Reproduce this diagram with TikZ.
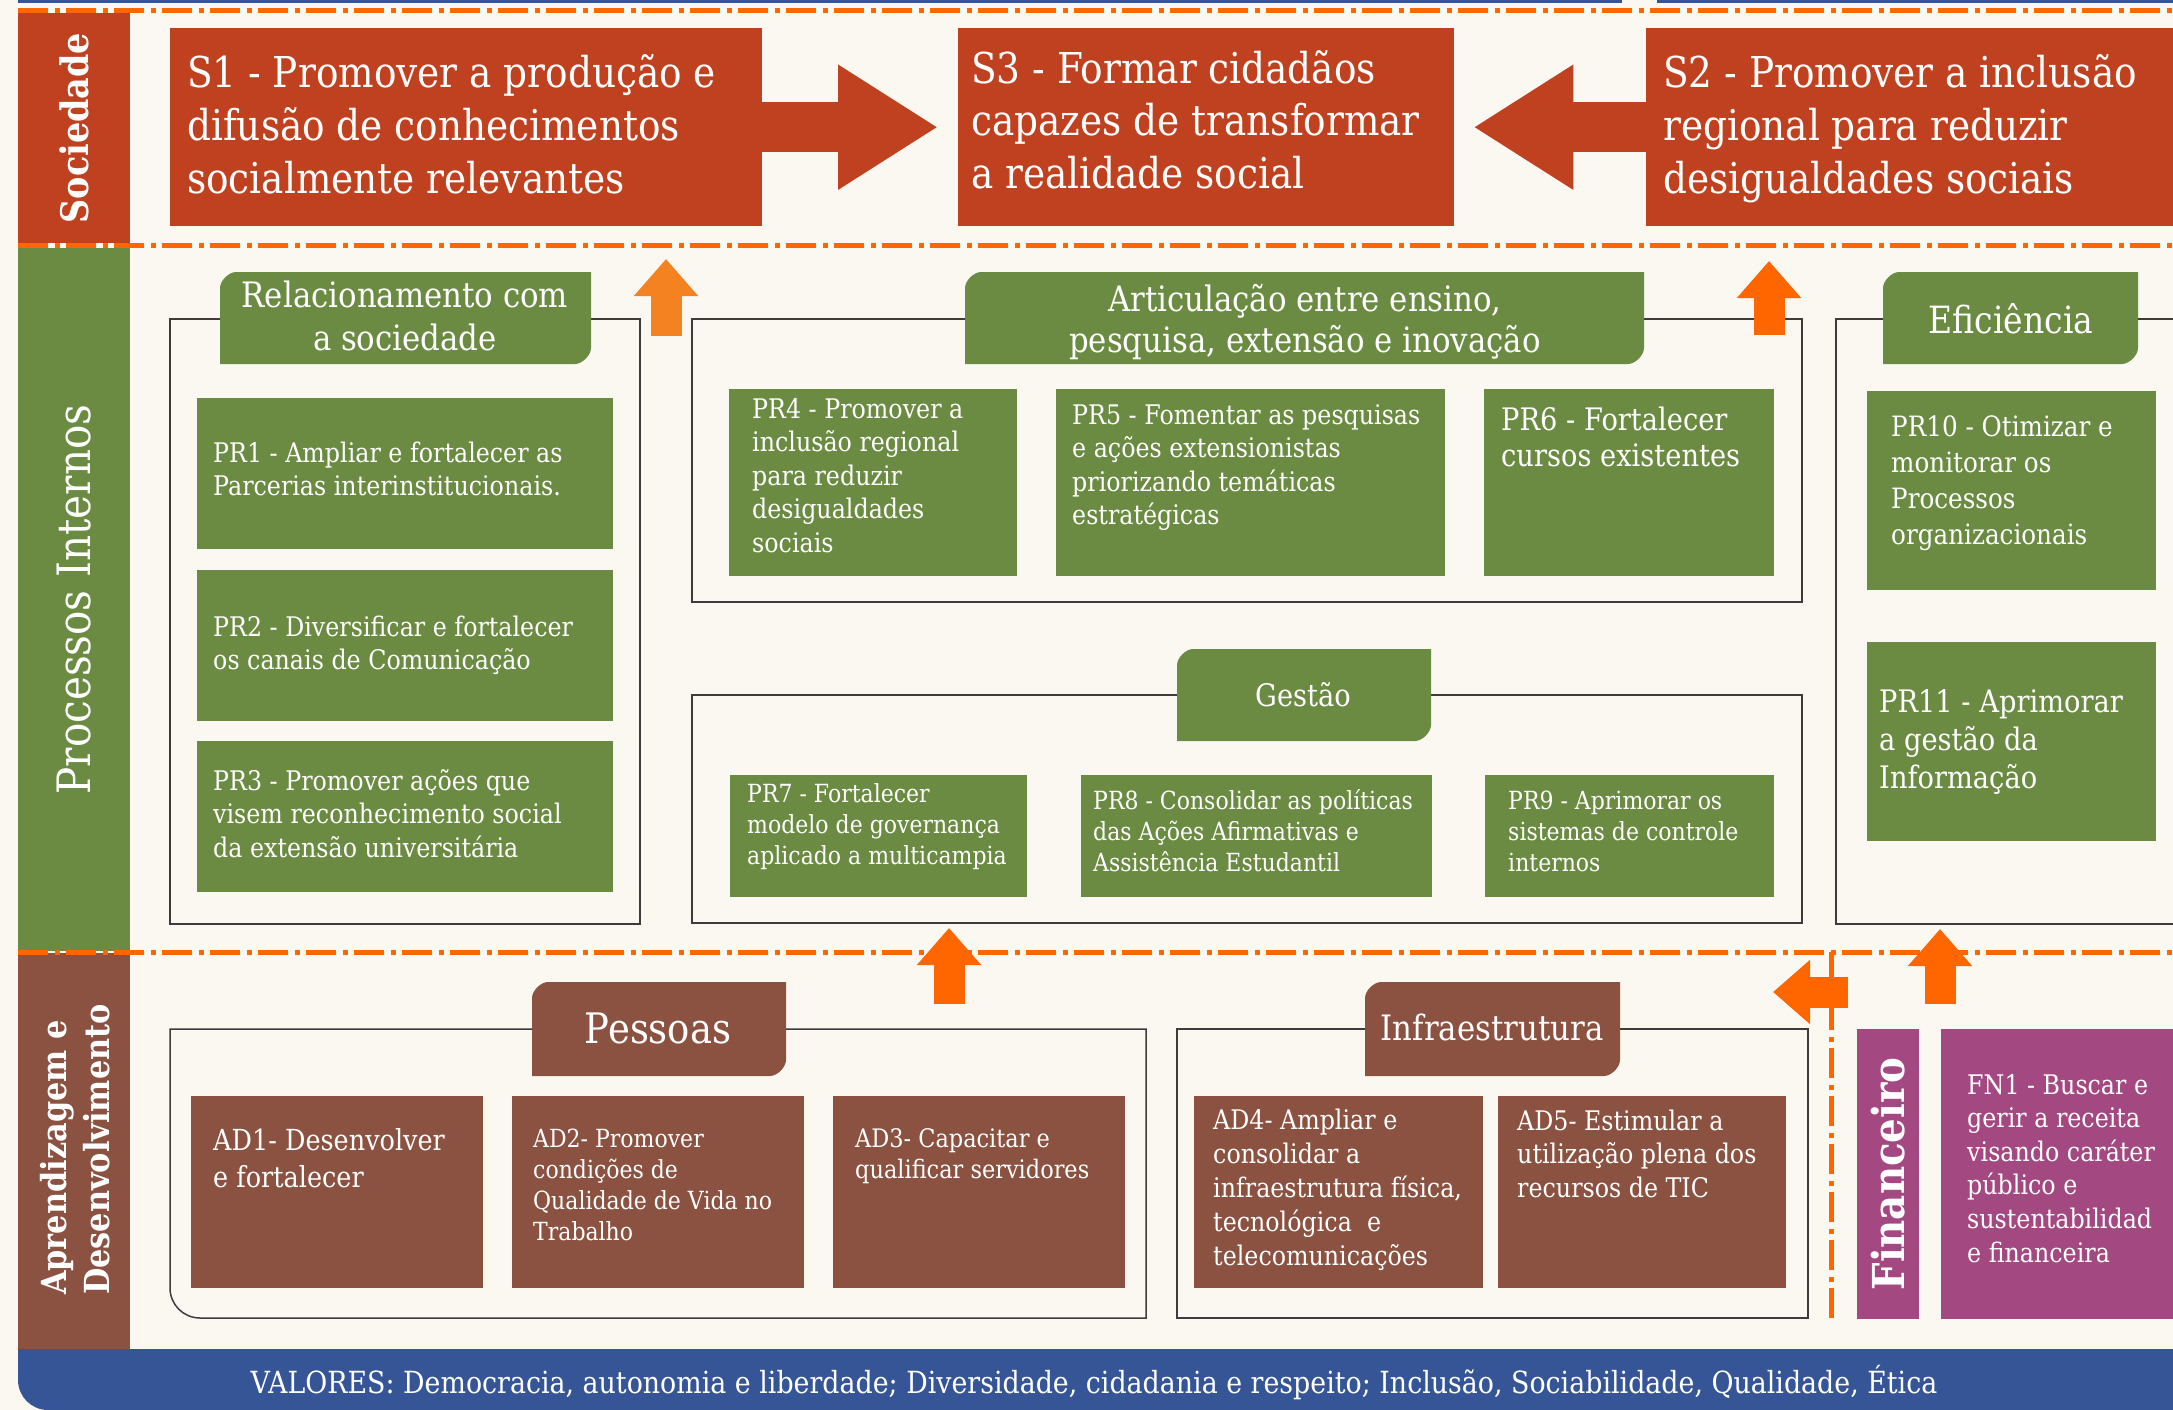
\documentclass[tikz,border=0pt]{standalone}
\usepackage{fontspec}
\setmainfont{DejaVu Serif}[FakeStretch=0.88]
\usetikzlibrary{arrows.meta}

\definecolor{bgcream}{RGB}{251,248,242}
\definecolor{socred}{RGB}{192,65,31}
\definecolor{pigreen}{RGB}{106,139,65}
\definecolor{adbrown}{RGB}{139,81,65}
\definecolor{fnpurple}{RGB}{164,72,130}
\definecolor{valblue}{RGB}{53,85,151}
\definecolor{lineorange}{RGB}{255,102,0}
\definecolor{arroworange}{RGB}{245,130,32}
\definecolor{framegray}{RGB}{60,60,60}

\newcommand{\setfs}[2]{\fontsize{#1}{#2}\selectfont}

\tikzstyle{band}=[rectangle, inner sep=0, text=white]
\tikzstyle{goal}=[rectangle, inner sep=0, anchor=north west]
\tikzstyle{boxtext}=[inner sep=0, text=white, anchor=base west, align=left]
\tikzstyle{tabtext}=[inner sep=0, text=white, anchor=base, align=center]
\tikzstyle{panel}=[draw=framegray, line width=1.5]
\tikzstyle{sepline}=[draw=lineorange, line width=5,
                     dash pattern=on 30pt off 6.5pt on 5pt off 6.5pt]
\tikzstyle{bigarrow}=[draw=socred, line width=50,
                      -{Triangle[length=100pt, width=118pt]}]
\tikzstyle{smallarrow}=[draw=lineorange, line width=31,
                        -{Triangle[length=37pt, width=62pt]}]

\begin{document}
\begin{tikzpicture}[x=1pt, y=-1pt]
  \useasboundingbox (0,0) rectangle (2173,1410);
  \clip (0,0) rectangle (2173,1410);
  \fill[bgcream] (0,0) rectangle (2173,1410);

  %%%%%%%%%%%%%%%%%%%%%%%%%%%%%%
  %%%%%%%%%%%%%%%%%%%%%%%%%%%%%%
  % perspectives

  %%%%%%%%%%%%%%%%%%%%%%%%%%%%%%
  % side bands
  \fill[valblue] (18,0) rectangle (1622,3.5);
  \fill[valblue] (1657,0) rectangle (2173,3.5);

  \node (soc) at (74,128) [band, fill=socred, rotate=90, minimum width=230, minimum height=112,
    font=\bfseries\setfs{38}{40}] {Sociedade};
  \node (proc) at (74,599.5) [band, fill=pigreen, rotate=90, minimum width=703, minimum height=112,
    font=\setfs{46}{48}] {Processos Internos};
  \node (apr) at (74,1151) [band, fill=adbrown, rotate=90, minimum width=396, minimum height=112] {};
  \node (aprt) at (75,1295) [band, rotate=90, anchor=west, align=left,
    font=\bfseries\setfs{34.5}{43}] {Aprendizagem e\\Desenvolvimento};

  % values
  \fill[valblue] (18,1349) -- (18,1380) .. controls (18,1396.6) and (31.4,1410) .. (48,1410)
    -- (2173,1410) -- (2173,1349) -- cycle;
  \node (val) at (1094,1393) [tabtext, font=\setfs{30.5}{32}]
    {VALORES: Democracia, autonomia e liberdade; Diversidade, cidadania e respeito; Inclusão, Sociabilidade, Qualidade, Ética};

  % separators
  \draw[sepline] (18,11) -- (2173,11);
  \draw[sepline] (18,245) -- (2173,245);
  \draw[sepline] (18,952) -- (2173,952);
  \draw[sepline] (1831,952) -- (1831,1319);

  %%%%%%%%%%%%%%%%%%%%%%%%%%%%%%
  % sociedade
  % (text nodes sit on the baseline of their last line)
  \node (s1) at (170,28) [goal, fill=socred, minimum width=592, minimum height=198] {};
  \node (s3) at (958,28) [goal, fill=socred, minimum width=496, minimum height=198] {};
  \node (s2) at (1646,28) [goal, fill=socred, minimum width=560, minimum height=198] {};

  \node (s1t) at (187,193) [boxtext, font=\setfs{42.5}{52.5}]
    {S1 - Promover a produção e\\difusão de conhecimentos\\socialmente relevantes};
  \node (s3t) at (971,188) [boxtext, font=\setfs{42.5}{52.5}]
    {S3 - Formar cidadãos\\capazes de transformar\\a realidade social};
  \node (s2t) at (1663,193) [boxtext, font=\setfs{42.5}{52.5}]
    {S2 - Promover a inclusão\\regional para reduzir\\desigualdades sociais};

  \draw[bigarrow] (s1.east) -- ([xshift=-20]s3.west);
  \draw[bigarrow] (s2.west) -- ([xshift=19]s3.east);

  %%%%%%%%%%%%%%%%%%%%%%%%%%%%%%
  % processos internos
  % frames
  \draw[panel] (170,319) rectangle (640,924);
  \draw[panel] (692,319) rectangle (1802,602);
  \draw[panel] (692,695) rectangle (1802,923);
  \draw[panel] (2180,319) -- (1836,319) -- (1836,924) -- (2180,924);

  % tabs
  \fill[pigreen] (220,364) -- (220,288) .. controls (220,280.8) and (228.8,272) .. (236,272)
    -- (591,272) -- (591,348) .. controls (591,355.2) and (582.2,364) .. (575,364) -- cycle;
  \fill[pigreen] (965,364) -- (965,288) .. controls (965,280.8) and (973.8,272) .. (981,272)
    -- (1644,272) -- (1644,348) .. controls (1644,355.2) and (1635.2,364) .. (1628,364) -- cycle;
  \fill[pigreen] (1883,364) -- (1883,288) .. controls (1883,280.8) and (1891.8,272) .. (1899,272)
    -- (2138,272) -- (2138,348) .. controls (2138,355.2) and (2129.2,364) .. (2122,364) -- cycle;
  \fill[pigreen] (1177,741) -- (1177,665) .. controls (1177,657.8) and (1185.8,649) .. (1193,649)
    -- (1431,649) -- (1431,725) .. controls (1431,732.2) and (1422.2,741) .. (1415,741) -- cycle;

  \node (rel) at (405,350) [tabtext, font=\setfs{35}{43}] {Relacionamento com\\a sociedade};
  \node (art) at (1305,352) [tabtext, font=\setfs{35}{41}] {Articulação entre ensino,\\pesquisa, extensão e inovação};
  \node (efi) at (2011,333) [tabtext, font=\setfs{37.5}{40}] {Eficiência};
  \node (ges) at (1303,706) [tabtext, font=\setfs{31}{33}] {Gestão};

  % objectives
  \node (pr1) at (197,398) [goal, fill=pigreen, minimum width=416, minimum height=151] {};
  \node (pr2) at (197,570) [goal, fill=pigreen, minimum width=416, minimum height=151] {};
  \node (pr3) at (197,741) [goal, fill=pigreen, minimum width=416, minimum height=151] {};
  \node (pr4) at (729,389) [goal, fill=pigreen, minimum width=288, minimum height=187] {};
  \node (pr5) at (1056,389) [goal, fill=pigreen, minimum width=389, minimum height=187] {};
  \node (pr6) at (1484,389) [goal, fill=pigreen, minimum width=290, minimum height=187] {};
  \node (pr7) at (730,775) [goal, fill=pigreen, minimum width=297, minimum height=122] {};
  \node (pr8) at (1081,775) [goal, fill=pigreen, minimum width=351, minimum height=122] {};
  \node (pr9) at (1485,775) [goal, fill=pigreen, minimum width=289, minimum height=122] {};
  \node (pr10) at (1867,391) [goal, fill=pigreen, minimum width=289, minimum height=199] {};
  \node (pr11) at (1867,642) [goal, fill=pigreen, minimum width=289, minimum height=199] {};

  \node (pr1t) at (213,495.5) [boxtext, font=\setfs{27}{33.5}]
    {PR1 - Ampliar e fortalecer as\\Parcerias interinstitucionais.};
  \node (pr2t) at (213,669.5) [boxtext, font=\setfs{27}{33.5}]
    {PR2 - Diversificar e fortalecer\\os canais de Comunicação};
  \node (pr3t) at (213,857) [boxtext, font=\setfs{27}{33.5}]
    {PR3 - Promover ações que\\visem reconhecimento social\\da extensão universitária};
  \node (pr4t) at (752,552) [boxtext, font=\setfs{27}{33.5}]
    {PR4 - Promover a\\inclusão regional\\para reduzir\\desigualdades\\sociais};
  \node (pr5t) at (1072,524.5) [boxtext, font=\setfs{27}{33.5}]
    {PR5 - Fomentar as pesquisas\\e ações extensionistas\\priorizando temáticas\\estratégicas};
  \node (pr6t) at (1501,466.5) [boxtext, font=\setfs{31}{36.5}]
    {PR6 - Fortalecer\\cursos existentes};
  \node (pr7t) at (747,864) [boxtext, font=\setfs{25}{31}]
    {PR7 - Fortalecer\\modelo de governança\\aplicado a multicampia};
  \node (pr8t) at (1093,871) [boxtext, font=\setfs{25}{31}]
    {PR8 - Consolidar as políticas\\das Ações Afirmativas e\\Assistência Estudantil};
  \node (pr9t) at (1508,871) [boxtext, font=\setfs{25}{31}]
    {PR9 - Aprimorar os\\sistemas de controle\\internos};
  \node (pr10t) at (1891,544) [boxtext, font=\setfs{28}{35.7}]
    {PR10 - Otimizar e\\monitorar os\\Processos\\organizacionais};
  \node (pr11t) at (1879,788) [boxtext, font=\setfs{31}{38}]
    {PR11 - Aprimorar\\a gestão da\\Informação};

  %%%%%%%%%%%%%%%%%%%%%%%%%%%%%%
  % aprendizagem e desenvolvimento
  % frames
  \draw[panel] (1146,1029) -- (170,1029) -- (170,1288) .. controls (170,1304.6) and (183.4,1318) .. (200,1318)
    -- (1146,1318) -- cycle;
  \draw[panel] (1177,1029) rectangle (1808,1318);

  % tabs
  \fill[adbrown] (532,1076) -- (532,998) .. controls (532,990.8) and (540.8,982) .. (548,982)
    -- (786,982) -- (786,1060) .. controls (786,1067.2) and (777.2,1076) .. (770,1076) -- cycle;
  \fill[adbrown] (1365,1076) -- (1365,998) .. controls (1365,990.8) and (1373.8,982) .. (1381,982)
    -- (1620,982) -- (1620,1060) .. controls (1620,1067.2) and (1611.2,1076) .. (1604,1076) -- cycle;

  \node (pes) at (658,1043) [tabtext, font=\setfs{42}{44}] {Pessoas};
  \node (inf) at (1492,1040) [tabtext, font=\setfs{35}{37}] {Infraestrutura};

  % objectives
  \node (ad1) at (191,1096) [goal, fill=adbrown, minimum width=292, minimum height=192] {};
  \node (ad2) at (512,1096) [goal, fill=adbrown, minimum width=292, minimum height=192] {};
  \node (ad3) at (833,1096) [goal, fill=adbrown, minimum width=292, minimum height=192] {};
  \node (ad4) at (1194,1096) [goal, fill=adbrown, minimum width=289, minimum height=192] {};
  \node (ad5) at (1498,1096) [goal, fill=adbrown, minimum width=288, minimum height=192] {};

  \node (ad1t) at (213,1187) [boxtext, font=\setfs{29}{37}]
    {AD1- Desenvolver\\e fortalecer};
  \node (ad2t) at (533,1240) [boxtext, font=\setfs{25}{31}]
    {AD2- Promover\\condições de\\Qualidade de Vida no\\Trabalho};
  \node (ad3t) at (855,1178) [boxtext, font=\setfs{25.5}{31}]
    {AD3- Capacitar e\\qualificar servidores};
  \node (ad4t) at (1213,1265) [boxtext, font=\setfs{27}{33.8}]
    {AD4- Ampliar e\\consolidar a\\infraestrutura física,\\tecnológica\ \ e\\telecomunicações};
  \node (ad5t) at (1517,1197.6) [boxtext, font=\setfs{27}{33.8}]
    {AD5- Estimular a\\utilização plena dos\\recursos de TIC};

  %%%%%%%%%%%%%%%%%%%%%%%%%%%%%%
  % financeiro
  \node (fin) at (1888,1174) [band, fill=fnpurple, rotate=90, minimum width=290, minimum height=62,
    font=\bfseries\setfs{44}{46}] {Financeiro};
  \node (fn1) at (1941,1029) [goal, fill=fnpurple, minimum width=250, minimum height=290] {};
  \node (fn1t) at (1967,1262) [boxtext, font=\setfs{27}{33.6}]
    {FN1 - Buscar e\\gerir a receita\\visando caráter\\público e\\sustentabilidad\\e financeira};

  %%%%%%%%%%%%%%%%%%%%%%%%%%%%%%
  % links
  \coordinate (a1s) at (666,336);   \coordinate (a1e) at (666,259);
  \coordinate (a2s) at (1769,335);  \coordinate (a2e) at (1769,261);
  \coordinate (a3s) at (949,1004);  \coordinate (a3e) at (949,928);
  \coordinate (a4s) at (1940,1004); \coordinate (a4e) at (1940,929);
  \coordinate (a5s) at (1848,992);  \coordinate (a5e) at (1773,992);

  \draw[smallarrow, draw=arroworange] (a1s) -- (a1e);
  \draw[smallarrow] (a2s) -- (a2e);
  \draw[smallarrow] (a3s) -- (a3e);
  \draw[smallarrow] (a4s) -- (a4e);
  \draw[smallarrow] (a5s) -- (a5e);

\end{tikzpicture}
\end{document}
